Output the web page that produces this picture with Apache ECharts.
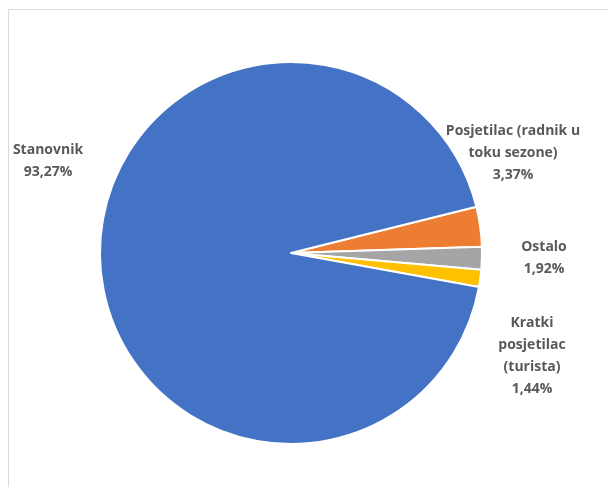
<!DOCTYPE html>
<html>
<head>
<meta charset="utf-8">
<script src="https://cdn.jsdelivr.net/npm/echarts@6/dist/echarts.min.js"></script>
<style>
html,body{margin:0;padding:0;background:#fff;}
#c{width:608px;height:487px;}
</style>
</head>
<body>
<div id="c"></div>
<script>
const categories = ['Posjetilac (radnik u\ntoku sezone)', 'Ostalo', 'Kratki\nposjetilac\n(turista)', 'Stanovnik'];
const values = [3.37, 1.92, 1.44, 93.27];
const valueLabels = ['3,37%', '1,92%', '1,44%', '93,27%'];
const colors = ['#ED7D31', '#A5A5A5', '#FFC000', '#4472C4'];
const labelPos = [[513, 153], [544, 258], [532, 356], [48, 161]];

const chart = echarts.init(document.getElementById('c'), null, {renderer: 'canvas'});
chart.setOption({
  backgroundColor: '#ffffff',
  animation: false,
  graphic: [{
    type: 'rect',
    shape: {x: 8.5, y: 9.5, width: 620, height: 500},
    style: {fill: 'none', stroke: '#d9d9d9', lineWidth: 1},
    silent: true
  }],
  series: [{
    type: 'pie',
    center: [291, 253],
    radius: [0, 191],
    startAngle: 14,
    clockwise: true,
    avoidLabelOverlap: false,
    itemStyle: {borderColor: '#ffffff', borderWidth: 2},
    label: {
      show: true,
      position: 'outside',
      formatter: p => p.name + '\n' + valueLabels[p.dataIndex],
      color: '#595959',
      fontFamily: 'Open Sans',
      fontWeight: 'bold',
      fontSize: 14,
      lineHeight: 22,
      align: 'center'
    },
    labelLine: {show: false},
    labelLayout: p => ({
      x: labelPos[p.dataIndex][0],
      y: labelPos[p.dataIndex][1],
      align: 'center',
      verticalAlign: 'middle'
    }),
    emphasis: {disabled: true},
    data: categories.map((c, i) => ({name: c, value: values[i], itemStyle: {color: colors[i]}}))
  }]
});
</script>
</body>
</html>
